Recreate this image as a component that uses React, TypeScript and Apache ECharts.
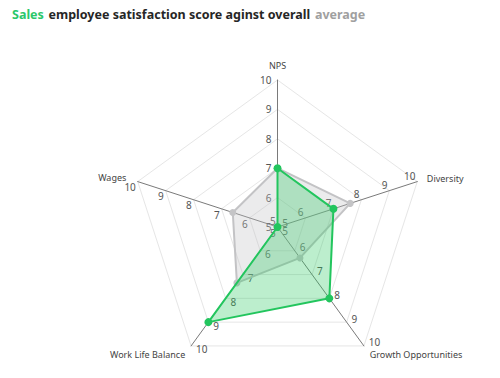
import React, { useEffect, useRef } from "react";
import * as echarts from "echarts";

const indicators = ["NPS", "Wages", "Work Life Balance", "Growth Opportunities", "Diversity"];
const salesValues = [7, 5, 9, 8, 7];
const averageValues = [7, 6.6, 7.35, 6.3, 7.6];
const axisMin = 5;
const axisMax = 10;

export default function App() {
  const ref = useRef<HTMLDivElement>(null);
  useEffect(() => {
    if (!ref.current) return;
    const chart = echarts.init(ref.current, undefined, { renderer: "svg" });
    chart.setOption({
      animation: false,
      title: {
        left: 7,
        top: 0,
        text: "{g|Sales} {d|employee satisfaction score aginst overall} {a|average}",
        textStyle: {
          fontFamily: "Noto Sans",
          rich: {
            g: { color: "#2bc76a", fontSize: 12.5, fontWeight: "bold", fontFamily: "Noto Sans" },
            d: { color: "#262626", fontSize: 12.5, fontWeight: "bold", fontFamily: "Noto Sans" },
            a: { color: "#a0a0a0", fontSize: 12.5, fontWeight: "bold", fontFamily: "Noto Sans" },
          },
        },
      },
      radar: {
        center: [277.5, 227],
        radius: 147,
        startAngle: 90,
        splitNumber: 5,
        shape: "polygon",
        indicator: indicators.map((name) => ({ name, min: axisMin, max: axisMax })),
        axisName: { color: "#444", fontSize: 9, fontFamily: "Noto Sans" },
        nameGap: 10,
        axisLine: { lineStyle: { color: "#7a7a7a", width: 1 } },
        splitLine: { lineStyle: { color: "#e6e6e6", width: 1 } },
        splitArea: { show: false },
        axisLabel: { show: true, color: "#555", fontSize: 10, fontFamily: "Noto Sans", margin: 6 },
      },
      series: [
        {
          type: "radar",
          z: 2,
          data: [
            {
              name: "Average",
              value: averageValues,
              symbol: "circle",
              symbolSize: 7,
              itemStyle: { color: "#c4c4c6" },
              lineStyle: { color: "#c4c4c6", width: 2 },
              areaStyle: { color: "rgba(190,190,196,0.45)" },
            },
          ],
        },
        {
          type: "radar",
          z: 3,
          data: [
            {
              name: "Sales",
              value: salesValues,
              symbol: "circle",
              symbolSize: 8,
              itemStyle: { color: "#22c55e" },
              lineStyle: { color: "#22c55e", width: 2 },
              areaStyle: { color: "rgba(40,200,95,0.45)" },
            },
          ],
        },
      ],
    });
    return () => chart.dispose();
  }, []);
  return (
    <div
      ref={ref}
      style={{ position: "absolute", left: 0, top: 0, width: 500, height: 378, background: "#fff" }}
    />
  );
}
